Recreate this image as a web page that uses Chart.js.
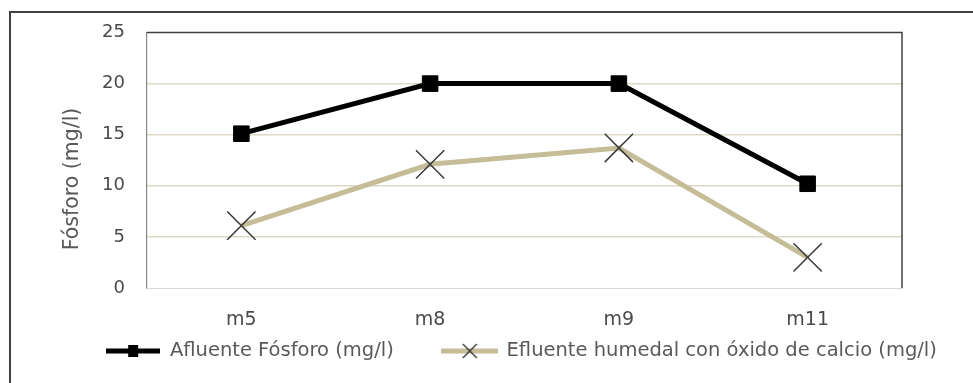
<!DOCTYPE html>
<html><head><meta charset="utf-8">
<script src="https://cdn.jsdelivr.net/npm/chart.js@4"></script>
<style>
html,body{margin:0;padding:0;background:#fff;overflow:hidden;width:973px;height:383px}
#wrap{position:absolute;left:9px;top:11px;width:1025px;height:372px}
</style>
</head><body>
<div id="wrap"><canvas id="c"></canvas></div>
<script>
const categories = ['m5', 'm8', 'm9', 'm11'];
const afluente = [15.1, 20, 20, 10.2];
const efluente = [6.1, 12.1, 13.7, 3.0];
const yTicks = [0, 5, 10, 15, 20, 25];
const seriesNames = ['Afluente Fósforo (mg/l)', 'Efluente humedal con óxido de calcio (mg/l)'];
const yTitle = 'Fósforo (mg/l)';

const FONT = "'DejaVu Sans', sans-serif";
const TEXT = '#595959';
const TICK = '#4a4a4a';
const TAN = '#C4BD97';
const LEG_PAD = 49;
const X_AXIS_H = 45;
const LEG_TOP = 281.25;

function legendImg(w, h, color, marker) {
  const c = document.createElement('canvas');
  c.width = w; c.height = h;
  const g = c.getContext('2d');
  g.strokeStyle = color; g.lineWidth = 5;
  g.beginPath(); g.moveTo(0, h / 2); g.lineTo(w, h / 2); g.stroke();
  if (marker === 'rect') {
    g.fillStyle = '#000';
    g.fillRect(w / 2 - 5, h / 2 - 6, 10, 12);
  } else {
    g.strokeStyle = '#333'; g.lineWidth = 1.3;
    const s = 7;
    g.beginPath();
    g.moveTo(w / 2 - s, h / 2 - s); g.lineTo(w / 2 + s, h / 2 + s);
    g.moveTo(w / 2 + s, h / 2 - s); g.lineTo(w / 2 - s, h / 2 + s);
    g.stroke();
  }
  return c;
}
const legImgs = [legendImg(54, 18, '#000', 'rect'), legendImg(57, 18, TAN, 'x')];

const decor = {
  id: 'decor',
  beforeInit(chart) {
    const lg = chart.legend;
    if (lg) {
      const f = lg.fit;
      lg.fit = function () { f.call(this); this.height = 372 - 277 - X_AXIS_H; };
    }
  },
  afterLayout(chart) {
    const lg = chart.legend;
    if (lg) { lg.top = LEG_TOP; lg.bottom = chart.height; lg.height = chart.height - LEG_TOP; }
  },
  beforeDatasetsDraw(chart) {
    const {ctx, chartArea: a} = chart;
    ctx.save();
    ctx.strokeStyle = '#404040';
    ctx.lineWidth = 1.5;
    ctx.beginPath();
    ctx.moveTo(a.left, a.top); ctx.lineTo(a.right, a.top); ctx.lineTo(a.right, a.bottom);
    ctx.stroke();
    ctx.restore();
  },
  afterDraw(chart) {
    const {ctx} = chart;
    ctx.save();
    ctx.strokeStyle = '#404040';
    ctx.lineWidth = 2;
    ctx.beginPath();
    ctx.moveTo(1, chart.height); ctx.lineTo(1, 1); ctx.lineTo(chart.width, 1);
    ctx.stroke();
    ctx.translate(64, 168);
    ctx.rotate(-Math.PI / 2);
    ctx.font = '20.5px ' + FONT;
    ctx.fillStyle = TEXT;
    ctx.textAlign = 'center';
    ctx.textBaseline = 'middle';
    ctx.fillText(yTitle, 0, 0);
    ctx.restore();
  }
};

new Chart(document.getElementById('c'), {
  type: 'line',
  data: {
    labels: categories,
    datasets: [
      {
        label: seriesNames[0], data: afluente,
        borderColor: '#000', backgroundColor: '#000', borderWidth: 5,
        pointStyle: 'rect', pointRadius: 11, pointBorderWidth: 1,
        pointBackgroundColor: '#000', pointBorderColor: '#000',
        tension: 0, fill: false
      },
      {
        label: seriesNames[1], data: efluente,
        borderColor: TAN, backgroundColor: TAN, borderWidth: 5,
        pointStyle: 'crossRot', pointRadius: 20, pointBorderWidth: 1.5,
        pointBorderColor: '#3a3a3a', pointBackgroundColor: '#3a3a3a',
        tension: 0, fill: false
      }
    ]
  },
  options: {
    responsive: true, maintainAspectRatio: false, animation: false,
    devicePixelRatio: 1,
    layout: {padding: {left: 0, right: 0, top: 18, bottom: 0}},
    events: [],
    plugins: {
      tooltip: {enabled: false},
      legend: {
        display: true, position: 'bottom', align: 'center',
        labels: {
          usePointStyle: true, pointStyleWidth: 54, padding: LEG_PAD,
          color: TEXT, font: {family: FONT, size: 19.5},
          generateLabels: (chart) => chart.data.datasets.map((ds, i) => ({
            text: ds.label, pointStyle: legImgs[i], fillStyle: 'transparent',
            strokeStyle: 'transparent', lineWidth: 0, hidden: false,
            datasetIndex: i, fontColor: TEXT
          }))
        }
      }
    },
    scales: {
      x: {
        type: 'category', offset: true,
        grid: {display: false, drawTicks: false},
        border: {display: true, color: '#D9D9D9', width: 1},
        ticks: {color: TICK, font: {family: FONT, size: 19}, padding: 20.6},
        afterFit: (s) => { s.height = X_AXIS_H; }
      },
      y: {
        min: 0, max: 25,
        afterBuildTicks: (s) => { s.ticks = yTicks.map(v => ({value: v})); },
        grid: {
          drawTicks: false, lineWidth: 1.5,
          color: (c) => (c.tick && (c.tick.value === 0 || c.tick.value === 25)) ? 'rgba(0,0,0,0)' : '#DDD9C3'
        },
        border: {display: true, color: '#868686', width: 1.2},
        ticks: {color: TICK, font: {family: FONT, size: 18}, padding: 22},
        afterFit: (s) => { s.width = 138; s.paddingTop = 0; s.paddingBottom = 0; }
      },
      yPad: {
        position: 'right', display: true,
        grid: {display: false, drawTicks: false},
        border: {display: false},
        ticks: {display: false},
        afterFit: (s) => { s.width = 132; }
      }
    }
  },
  plugins: [decor]
});
</script>
</body></html>
